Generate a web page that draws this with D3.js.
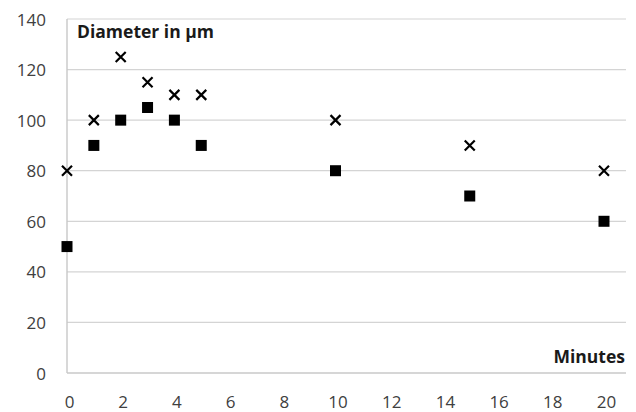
<!DOCTYPE html>
<html>
<head>
<meta charset="utf-8">
<script src="https://cdn.jsdelivr.net/npm/d3@7"></script>
<style>
  body { margin: 0; background: #fff; }
  .tick text { font-family: "Open Sans", sans-serif; font-size: 17px; fill: #404040; }
  .label { font-family: "Open Sans", sans-serif; font-size: 17.5px; font-weight: bold; fill: #1a1a1a; }
</style>
</head>
<body>
<svg id="chart"></svg>
<script>
// minutes after start, diameter in µm
const minutes = [0, 1, 2, 3, 4, 5, 10, 15, 20];
const squareValues = [50, 90, 100, 105, 100, 90, 80, 70, 60];
const crossValues = [80, 100, 125, 115, 110, 110, 100, 90, 80];
const xTicks = [0, 2, 4, 6, 8, 10, 12, 14, 16, 18, 20];
const yTicks = [0, 20, 40, 60, 80, 100, 120, 140];

const width = 636;
const height = 412;
const margin = { top: 19, right: 10, bottom: 39, left: 67 };

const xScale = d3.scaleLinear().domain([0, 20]).range([margin.left, 604]);
const yScale = d3.scaleLinear().domain([0, 140]).range([height - margin.bottom, margin.top]);
const plotRight = 626;

const svg = d3.select('#chart')
    .attr('width', width)
    .attr('height', height);

// horizontal gridlines
svg.append('g')
    .attr('class', 'grid')
    .selectAll('line')
    .data(yTicks.slice(1))
    .enter()
    .append('line')
    .attr('x1', margin.left)
    .attr('x2', plotRight)
    .attr('y1', (d) => yScale(d))
    .attr('y2', (d) => yScale(d))
    .attr('stroke', '#d4d4d4')
    .attr('stroke-width', 1.2);

const yAxis = d3.axisLeft(yScale).tickValues(yTicks).tickSize(0).tickPadding(21);
svg.append('g')
    .attr('transform', `translate(${margin.left}, 0)`)
    .call(yAxis)
    .call((g) => g.select('.domain').remove())
    .selectAll('text')
    .attr('dy', '0.36em');

const xAxis = d3.axisBottom(xScale).tickValues(xTicks).tickSize(0).tickPadding(23);
svg.append('g')
    .attr('transform', `translate(0, ${yScale(0)})`)
    .call(xAxis)
    .call((g) => g.select('.domain').remove())
    .selectAll('text')
    .attr('dx', 2);

// axis lines
svg.append('line')
    .attr('x1', margin.left).attr('x2', margin.left)
    .attr('y1', yScale(140)).attr('y2', yScale(0))
    .attr('stroke', '#c8c8c8').attr('stroke-width', 1.4);
svg.append('line')
    .attr('x1', margin.left).attr('x2', plotRight)
    .attr('y1', yScale(0)).attr('y2', yScale(0))
    .attr('stroke', '#c8c8c8').attr('stroke-width', 1.4);

svg.append('text')
    .attr('class', 'label')
    .attr('x', 77)
    .attr('y', 38)
    .text('Diameter in µm');

svg.append('text')
    .attr('class', 'label')
    .attr('x', 625)
    .attr('y', 363)
    .style('text-anchor', 'end')
    .text('Minutes');

const squares = minutes.map((m, i) => ({ x: m, y: squareValues[i] }));
const crosses = minutes.map((m, i) => ({ x: m, y: crossValues[i] }));
const sq = 11;
const cr = 5;

svg.append('g')
    .attr('class', 'squares')
    .selectAll('rect')
    .data(squares)
    .enter()
    .append('rect')
    .attr('x', (d) => xScale(d.x) - sq / 2)
    .attr('y', (d) => yScale(d.y) - sq / 2)
    .attr('width', sq)
    .attr('height', sq)
    .attr('fill', '#000');

svg.append('g')
    .attr('class', 'crosses')
    .selectAll('path')
    .data(crosses)
    .enter()
    .append('path')
    .attr('d', (d) => {
        const cx = xScale(d.x);
        const cy = yScale(d.y);
        return `M${cx - cr},${cy - cr}L${cx + cr},${cy + cr}M${cx - cr},${cy + cr}L${cx + cr},${cy - cr}`;
    })
    .attr('stroke', '#000')
    .attr('stroke-width', 2.2)
    .attr('fill', 'none');
</script>
</body>
</html>
